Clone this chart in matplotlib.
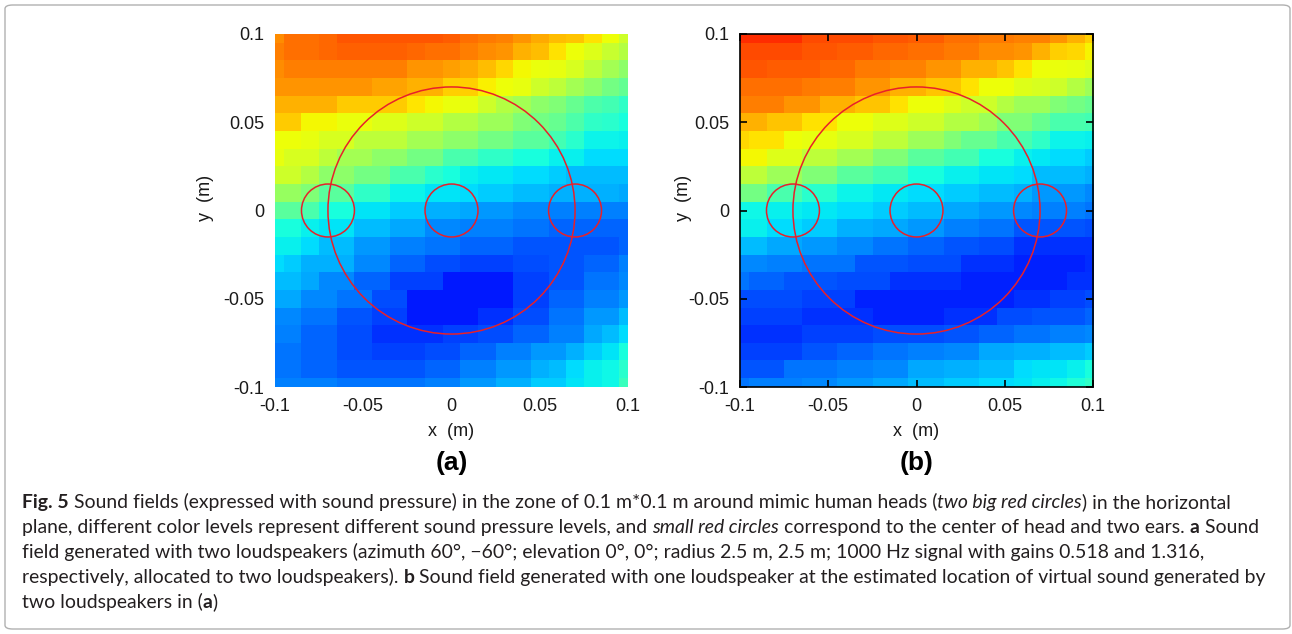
import matplotlib
matplotlib.use("Agg")
import matplotlib.pyplot as plt
import numpy as np
from matplotlib.patches import Circle, FancyBboxPatch

plt.rcParams['axes.unicode_minus'] = False

# grid of the sampled zone (m), cell centres from -0.1 to 0.1
grid_x = np.round(np.linspace(-0.1, 0.1, 21), 3)
ticks = [-0.1, -0.05, 0, 0.05, 0.1]
tick_labels = ['-0.1', '-0.05', '0', '0.05', '0.1']

# normalised sound pressure level (jet scale 0..1), rows from y=0.1 (top) to y=-0.1
field_a = [
    [0.76, 0.79, 0.79, 0.80, 0.82, 0.82, 0.82, 0.82, 0.82, 0.82, 0.81, 0.79, 0.78, 0.77, 0.75, 0.73, 0.71, 0.70, 0.67, 0.64, 0.60],
    [0.775, 0.79, 0.79, 0.80, 0.805, 0.805, 0.805, 0.805, 0.80, 0.79, 0.79, 0.775, 0.76, 0.75, 0.72, 0.71, 0.67, 0.64, 0.62, 0.59, 0.57],
    [0.76, 0.775, 0.775, 0.775, 0.775, 0.775, 0.775, 0.775, 0.75, 0.75, 0.74, 0.73, 0.71, 0.68, 0.645, 0.635, 0.63, 0.61, 0.58, 0.55, 0.52],
    [0.75, 0.75, 0.75, 0.75, 0.75, 0.75, 0.735, 0.735, 0.72, 0.72, 0.69, 0.69, 0.655, 0.64, 0.63, 0.60, 0.58, 0.55, 0.52, 0.49, 0.47],
    [0.72, 0.72, 0.72, 0.72, 0.695, 0.695, 0.695, 0.695, 0.665, 0.645, 0.635, 0.63, 0.60, 0.57, 0.55, 0.52, 0.505, 0.475, 0.445, 0.43, 0.41],
    [0.695, 0.695, 0.645, 0.645, 0.635, 0.635, 0.62, 0.62, 0.60, 0.60, 0.57, 0.57, 0.54, 0.54, 0.505, 0.49, 0.475, 0.445, 0.41, 0.40, 0.38],
    [0.64, 0.64, 0.63, 0.61, 0.61, 0.58, 0.58, 0.58, 0.55, 0.55, 0.52, 0.52, 0.49, 0.49, 0.46, 0.46, 0.43, 0.40, 0.365, 0.365, 0.36],
    [0.63, 0.61, 0.61, 0.58, 0.55, 0.55, 0.52, 0.52, 0.49, 0.49, 0.44, 0.44, 0.41, 0.41, 0.38, 0.38, 0.36, 0.36, 0.34, 0.34, 0.34],
    [0.60, 0.60, 0.57, 0.52, 0.52, 0.49, 0.49, 0.44, 0.44, 0.40, 0.38, 0.36, 0.355, 0.355, 0.34, 0.34, 0.325, 0.31, 0.31, 0.31, 0.31],
    [0.535, 0.535, 0.505, 0.46, 0.46, 0.41, 0.41, 0.365, 0.365, 0.35, 0.35, 0.34, 0.325, 0.325, 0.31, 0.31, 0.30, 0.30, 0.30, 0.30, 0.29],
    [0.46, 0.46, 0.44, 0.38, 0.38, 0.35, 0.35, 0.325, 0.325, 0.30, 0.30, 0.29, 0.275, 0.275, 0.26, 0.26, 0.25, 0.25, 0.25, 0.25, 0.25],
    [0.38, 0.38, 0.36, 0.35, 0.35, 0.31, 0.31, 0.29, 0.29, 0.26, 0.26, 0.25, 0.25, 0.25, 0.24, 0.24, 0.225, 0.225, 0.225, 0.225, 0.225],
    [0.36, 0.36, 0.34, 0.31, 0.31, 0.275, 0.275, 0.25, 0.25, 0.24, 0.24, 0.225, 0.225, 0.225, 0.21, 0.21, 0.21, 0.21, 0.21, 0.21, 0.225],
    [0.34, 0.325, 0.30, 0.30, 0.30, 0.26, 0.26, 0.225, 0.225, 0.20, 0.20, 0.19, 0.19, 0.19, 0.20, 0.20, 0.21, 0.21, 0.225, 0.225, 0.25],
    [0.31, 0.31, 0.29, 0.26, 0.26, 0.225, 0.225, 0.19, 0.19, 0.19, 0.15, 0.15, 0.15, 0.15, 0.19, 0.19, 0.21, 0.21, 0.24, 0.24, 0.26],
    [0.29, 0.29, 0.26, 0.26, 0.24, 0.24, 0.20, 0.20, 0.15, 0.15, 0.15, 0.15, 0.15, 0.15, 0.19, 0.19, 0.225, 0.225, 0.25, 0.25, 0.275],
    [0.26, 0.26, 0.24, 0.24, 0.21, 0.21, 0.19, 0.19, 0.15, 0.15, 0.15, 0.15, 0.175, 0.175, 0.20, 0.20, 0.24, 0.24, 0.275, 0.275, 0.31],
    [0.25, 0.25, 0.225, 0.225, 0.20, 0.20, 0.175, 0.175, 0.175, 0.175, 0.19, 0.19, 0.20, 0.20, 0.225, 0.225, 0.25, 0.25, 0.29, 0.31, 0.34],
    [0.24, 0.24, 0.225, 0.225, 0.20, 0.20, 0.19, 0.19, 0.19, 0.20, 0.20, 0.225, 0.225, 0.25, 0.25, 0.275, 0.275, 0.30, 0.325, 0.35, 0.38],
    [0.24, 0.24, 0.225, 0.225, 0.21, 0.21, 0.21, 0.21, 0.21, 0.225, 0.225, 0.25, 0.25, 0.275, 0.275, 0.30, 0.31, 0.34, 0.36, 0.37, 0.40],
    [0.25, 0.25, 0.25, 0.25, 0.24, 0.24, 0.24, 0.24, 0.24, 0.25, 0.25, 0.275, 0.275, 0.30, 0.30, 0.325, 0.325, 0.35, 0.36, 0.37, 0.42],
]

field_b = [
    [0.86, 0.86, 0.86, 0.86, 0.83, 0.83, 0.83, 0.83, 0.82, 0.82, 0.81, 0.81, 0.79, 0.79, 0.78, 0.78, 0.77, 0.77, 0.75, 0.72, 0.69],
    [0.83, 0.83, 0.83, 0.83, 0.82, 0.82, 0.81, 0.81, 0.80, 0.80, 0.79, 0.79, 0.78, 0.78, 0.76, 0.76, 0.75, 0.72, 0.69, 0.68, 0.65],
    [0.82, 0.82, 0.81, 0.81, 0.81, 0.80, 0.80, 0.78, 0.78, 0.77, 0.77, 0.75, 0.75, 0.72, 0.72, 0.70, 0.67, 0.64, 0.635, 0.63, 0.62],
    [0.79, 0.79, 0.79, 0.79, 0.78, 0.775, 0.775, 0.75, 0.75, 0.72, 0.72, 0.70, 0.70, 0.67, 0.64, 0.64, 0.62, 0.61, 0.60, 0.57, 0.54],
    [0.775, 0.775, 0.775, 0.75, 0.75, 0.72, 0.72, 0.70, 0.70, 0.67, 0.64, 0.64, 0.62, 0.60, 0.60, 0.57, 0.54, 0.54, 0.505, 0.49, 0.475],
    [0.72, 0.72, 0.70, 0.70, 0.67, 0.67, 0.64, 0.64, 0.62, 0.62, 0.60, 0.60, 0.57, 0.57, 0.54, 0.505, 0.505, 0.475, 0.44, 0.44, 0.43],
    [0.68, 0.67, 0.67, 0.64, 0.63, 0.63, 0.61, 0.61, 0.58, 0.58, 0.54, 0.54, 0.505, 0.475, 0.475, 0.44, 0.44, 0.41, 0.365, 0.365, 0.36],
    [0.645, 0.645, 0.62, 0.62, 0.58, 0.58, 0.55, 0.55, 0.505, 0.505, 0.46, 0.46, 0.43, 0.43, 0.38, 0.38, 0.36, 0.355, 0.34, 0.34, 0.325],
    [0.58, 0.58, 0.54, 0.54, 0.505, 0.505, 0.46, 0.46, 0.43, 0.43, 0.38, 0.38, 0.36, 0.36, 0.35, 0.35, 0.34, 0.31, 0.31, 0.31, 0.30],
    [0.49, 0.49, 0.44, 0.44, 0.40, 0.40, 0.365, 0.365, 0.355, 0.355, 0.34, 0.34, 0.325, 0.325, 0.31, 0.31, 0.30, 0.275, 0.275, 0.275, 0.26],
    [0.37, 0.37, 0.36, 0.36, 0.355, 0.355, 0.34, 0.34, 0.325, 0.325, 0.31, 0.31, 0.29, 0.29, 0.275, 0.275, 0.26, 0.25, 0.25, 0.25, 0.24],
    [0.36, 0.36, 0.34, 0.34, 0.325, 0.325, 0.30, 0.30, 0.29, 0.29, 0.275, 0.275, 0.25, 0.25, 0.24, 0.24, 0.21, 0.21, 0.21, 0.21, 0.20],
    [0.31, 0.31, 0.29, 0.29, 0.275, 0.275, 0.26, 0.26, 0.24, 0.24, 0.225, 0.225, 0.21, 0.21, 0.20, 0.20, 0.175, 0.175, 0.175, 0.175, 0.175],
    [0.26, 0.26, 0.25, 0.25, 0.24, 0.24, 0.24, 0.21, 0.21, 0.21, 0.20, 0.20, 0.20, 0.175, 0.175, 0.175, 0.16, 0.16, 0.16, 0.16, 0.17],
    [0.24, 0.225, 0.225, 0.21, 0.21, 0.21, 0.20, 0.20, 0.20, 0.175, 0.175, 0.175, 0.175, 0.16, 0.16, 0.16, 0.16, 0.16, 0.16, 0.175, 0.175],
    [0.20, 0.20, 0.20, 0.20, 0.19, 0.19, 0.19, 0.16, 0.16, 0.16, 0.16, 0.16, 0.16, 0.16, 0.16, 0.16, 0.175, 0.175, 0.19, 0.19, 0.20],
    [0.19, 0.19, 0.19, 0.19, 0.175, 0.175, 0.175, 0.175, 0.16, 0.16, 0.16, 0.16, 0.175, 0.175, 0.175, 0.20, 0.20, 0.21, 0.21, 0.21, 0.225],
    [0.175, 0.175, 0.175, 0.175, 0.19, 0.19, 0.19, 0.19, 0.20, 0.20, 0.20, 0.20, 0.21, 0.21, 0.225, 0.225, 0.24, 0.24, 0.25, 0.25, 0.26],
    [0.19, 0.19, 0.19, 0.19, 0.21, 0.21, 0.225, 0.225, 0.24, 0.24, 0.25, 0.25, 0.26, 0.26, 0.29, 0.29, 0.30, 0.30, 0.31, 0.31, 0.325],
    [0.21, 0.21, 0.21, 0.24, 0.24, 0.24, 0.25, 0.25, 0.26, 0.26, 0.29, 0.29, 0.30, 0.30, 0.31, 0.31, 0.34, 0.35, 0.35, 0.36, 0.38],
    [0.24, 0.25, 0.25, 0.25, 0.26, 0.26, 0.275, 0.275, 0.29, 0.29, 0.31, 0.31, 0.325, 0.325, 0.34, 0.34, 0.35, 0.36, 0.37, 0.39, 0.41],
]

# head (big circle) and head centre / ears (small circles): centre x, centre y, radius
circle_x = [0.0, 0.0, -0.07, 0.07]
circle_y = [0.0, 0.0, 0.0, 0.0]
circle_r = [0.07, 0.015, 0.015, 0.015]

panel_names = ['(a)', '(b)']

caption_lines = [
    [("Fig. 5", 'b'), (" Sound fields (expressed with sound pressure) in the zone of 0.1 m*0.1 m around mimic human heads (", 'n'),
     ("two big red circles", 'i'), (") in the horizontal", 'n')],
    [("plane, different color levels represent different sound pressure levels, and ", 'n'), ("small red circles", 'i'),
     (" correspond to the center of head and two ears. ", 'n'), ("a", 'b'), (" Sound", 'n')],
    [("field generated with two loudspeakers (azimuth 60°, \u221260°; elevation 0°, 0°; radius 2.5 m, 2.5 m; 1000 Hz signal with gains 0.518 and 1.316,", 'n')],
    [("respectively, allocated to two loudspeakers). ", 'n'), ("b", 'b'),
     (" Sound field generated with one loudspeaker at the estimated location of virtual sound generated by", 'n')],
    [("two loudspeakers in (", 'n'), ("a", 'b'), (")", 'n')],
]

W, H = 1292, 634
fig = plt.figure(figsize=(W / 100, H / 100), dpi=100)
fig.patch.set_facecolor('white')

# outer frame of the figure panel
fig.patches.append(FancyBboxPatch((5 / W, 5 / H), 1285 / W, 624 / H,
                                  boxstyle='round,pad=0,rounding_size=0.006',
                                  transform=fig.transFigure, fill=False,
                                  edgecolor='#b0b0b0', lw=1.0))

tick_font = dict(family='Liberation Sans', size=13, color='#1a1a1a')
half = 0.005
ax_left = [275, 740]
ylabel_x = [205, 683]

for k, field in enumerate([field_a, field_b]):
    left = ax_left[k]
    ax = fig.add_axes([left / W, 1 - 387 / H, 353 / W, 353 / H])
    ax.imshow(np.array(field), cmap='jet', vmin=0, vmax=1, origin='upper',
              interpolation='nearest', aspect='auto',
              extent=[grid_x[0] - half, grid_x[-1] + half, grid_x[0] - half, grid_x[-1] + half])
    for cx, cy, r in zip(circle_x, circle_y, circle_r):
        ax.add_patch(Circle((cx, cy), r, fill=False, edgecolor='#e8202a', lw=1.1))
    ax.set_xlim(-0.1, 0.1)
    ax.set_ylim(-0.1, 0.1)
    ax.set_xticks(ticks)
    ax.set_yticks(ticks)
    ax.set_xticklabels(tick_labels, fontdict=tick_font)
    ax.set_yticklabels(tick_labels, fontdict=tick_font)
    if k == 0:
        for s in ax.spines.values():
            s.set_visible(False)
        ax.tick_params(length=0, pad=8)
    else:
        for s in ax.spines.values():
            s.set_linewidth(1.2)
            s.set_color('black')
        ax.tick_params(direction='in', length=5, width=1.2, top=True, right=True, pad=8)
    cx_pix = left + 176.5
    fig.text(cx_pix / W, 1 - 432 / H, 'x  (m)', ha='center', va='center', **tick_font)
    fig.text(ylabel_x[k] / W, 1 - 198 / H, 'y  (m)', ha='center', va='center', rotation=90, **tick_font)
    fig.text(cx_pix / W, 1 - 463 / H, panel_names[k], ha='center', va='center',
             family='Liberation Sans', size=19, weight='bold', color='black')

# caption with mixed bold / italic runs
cap_font = 'Lato'
renderer = fig.canvas.get_renderer()


def run_width(txt, style, size):
    kw = dict(fontsize=size, family=cap_font)
    if style == 'b':
        kw['fontweight'] = 'bold'
    if style == 'i':
        kw['fontstyle'] = 'italic'
    t = fig.text(0, 0, 'x' + txt + 'x', **kw)
    w = t.get_window_extent(renderer=renderer).width
    t.set_text('xx')
    w -= t.get_window_extent(renderer=renderer).width
    t.remove()
    return w, kw


base = 12
line1_w = sum(run_width(t, s, base)[0] for t, s in caption_lines[0])
cap_size = base * 1205 / line1_w

for i, line in enumerate(caption_lines):
    x = 22
    y = 1 - (508 + 25 * i) / H
    for txt, style in line:
        w, kw = run_width(txt, style, cap_size)
        fig.text(x / W, y, txt, va='baseline', color='#231f20', **kw)
        x += w

fig.savefig('out.png', dpi=100)
